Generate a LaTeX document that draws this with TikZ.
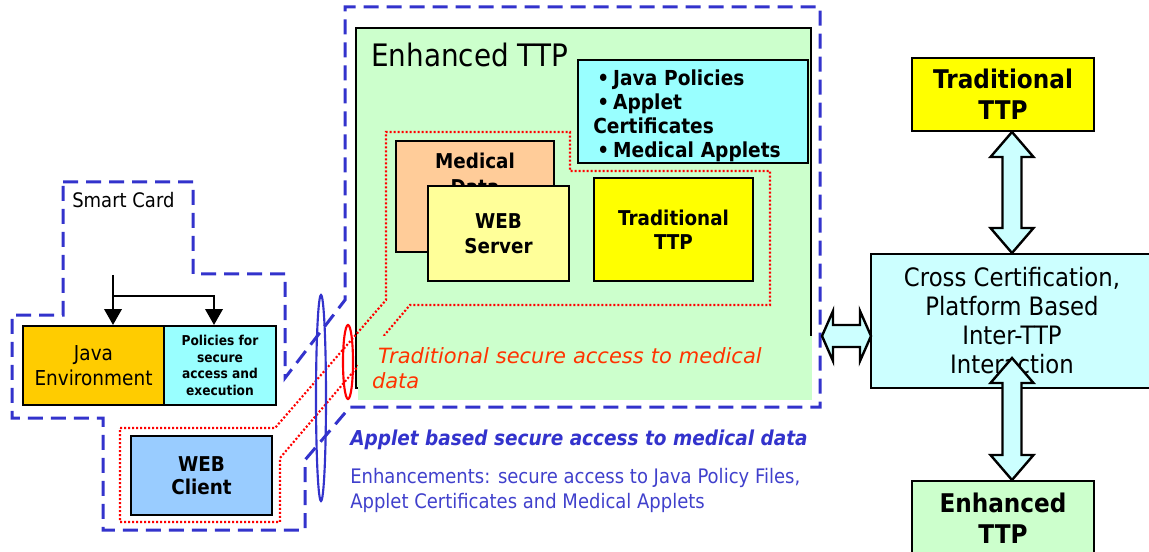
\documentclass[tikz,border=0pt]{standalone}
\usepackage{fontspec}
\setmainfont[FakeStretch=0.9]{DejaVu Sans}
\newfontfamily\widefont{DejaVu Sans}
\usetikzlibrary{shapes.geometric,arrows.meta,calc}
\definecolor{dblue}{HTML}{3333CC}
\definecolor{tblue}{HTML}{4040CC}
\definecolor{dred}{HTML}{FF0000}
\definecolor{tred}{HTML}{FF3300}
\definecolor{enhgreen}{HTML}{CCFFCC}
\definecolor{polcyan}{HTML}{99FFFF}
\definecolor{lcyan}{HTML}{CCFFFF}
\definecolor{javaorange}{HTML}{FFCC00}
\definecolor{medorange}{HTML}{FFCC99}
\definecolor{webyellow}{HTML}{FFFF99}
\definecolor{ttpyellow}{HTML}{FFFF00}
\definecolor{clientblue}{HTML}{99CCFF}
\newcommand{\fs}[2]{\fontsize{#1pt}{#2pt}\selectfont}
\newcommand{\vblk}[2]{%
  \draw[blk] (#1) -- ($(#1)+(21.5,25)$) -- ($(#1)+(9.5,25)$) -- ($(#2)+(9.5,-25)$)
    -- ($(#2)+(21.5,-25)$) -- (#2) -- ($(#2)+(-21.5,-25)$) -- ($(#2)+(-9.5,-25)$)
    -- ($(#1)+(-9.5,25)$) -- ($(#1)+(-21.5,25)$) -- cycle;}
\newcommand{\hblk}[2]{%
  \draw[blk] (#1) -- ($(#1)+(11,-25)$) -- ($(#1)+(11,-11)$) -- ($(#2)+(-11,-11)$)
    -- ($(#2)+(-11,-25)$) -- (#2) -- ($(#2)+(-11,25)$) -- ($(#2)+(-11,11)$)
    -- ($(#1)+(11,11)$) -- ($(#1)+(11,25)$) -- cycle;}
\begin{document}
\begin{tikzpicture}[x=0.75pt,y=-0.75pt,
  box/.style={draw=black,line width=1.5pt,inner sep=0pt,align=center},
  sz/.style 2 args={minimum width=#1*0.75pt,minimum height=#2*0.75pt},
  bdash/.style={draw=dblue,line width=2.25pt,dash pattern=on 11.25pt off 6pt},
  rdot/.style={draw=dred,line width=1.6pt,dash pattern=on 1.5pt off 1.5pt},
  blk/.style={draw=black,line width=1.8pt,fill=lcyan,line join=miter},
  arr/.style={draw=black,line width=2pt,-{Triangle[width=13pt,length=12pt]}},
  fbig/.style={font=\fs{23.2}{28}},
  fin/.style={font=\bfseries\fs{15.3}{19}},
  fright/.style={font=\bfseries\fs{19.3}{23}},
  ]
\useasboundingbox (0,0) rectangle (1149,552);

% blue dashed outline (smart card + client + enhanced TTP)
\draw[bdash] (63,182) -- (193,182) -- (193,274) -- (285,274) -- (285,378)
  -- (345,300) -- (345,7) -- (820,7) -- (820,407) -- (350,407) -- (305,460)
  -- (305,530) -- (103,530) -- (103,418) -- (12,418) -- (12,315) -- (63,315) -- cycle;

% Enhanced TTP
\node[box,fill=enhgreen,sz={455}{360}] (enh) at (583.5,208) {};
\node[fbig,anchor=base west,inner sep=0pt] (enht) at (371,67) {Enhanced TTP};
\node[box,fill=polcyan,sz={230}{103}] (jp) at (693,111.5) {};
\node[anchor=north west,inner sep=0pt,text width=205*0.75pt,align=left,
  font=\bfseries\fs{15.5}{18}] (jpt) at (593,69.5)
  {\hspace*{3pt}•\hspace{3pt}Java Policies\\\hspace*{3pt}•\hspace{3pt}Applet\\Certificates\\\hspace*{3pt}•\hspace{3pt}Medical Applets};
\node[box,fill=medorange,sz={158}{111}] (md) at (475,196.5) {};
\node[fin,inner sep=0pt,align=center] (mdt) at (475,174) {Medical\\Data};
\node[box,fill=webyellow,sz={141}{95},fin] (ws) at (498.5,233.5) {WEB\\Server};
\node[box,fill=ttpyellow,sz={159}{103},font=\bfseries\fs{15.3}{18}] (tt1) at (673.5,229.5) {Traditional\\TTP};

% red dotted traditional access path
\draw[rdot] (120,428) -- (275,428) -- (386,300) -- (386,132) -- (570,132) -- (570,171)
  -- (770,171) -- (770,305) -- (410,305) -- (280,458) -- (280,522) -- (120,522) -- cycle;

\node[fill=enhgreen,sz={454}{64},inner sep=0pt,text width=426*0.75pt,align=left,
  text=tred,font=\widefont\itshape\fs{15.75}{18.75}] (tsa) at (585,368)
  {\hspace*{4.5pt}Traditional secure access to medical\\data};

% ellipses
\node[ellipse,draw=dblue,line width=1.6pt,inner sep=0pt,sz={10}{206}] (be) at (321,398) {};
\node[ellipse,draw=dred,line width=1.6pt,inner sep=0pt,sz={10}{74}] (re) at (348,362) {};

% smart card
\node[anchor=base west,inner sep=0pt,font=\fs{15}{18}] (sc) at (72,208) {Smart Card};
\node[box,fill=javaorange,sz={141}{79},font=\fs{15.4}{18.75}] (je) at (93.5,365.5) {Java\\Environment};
\node[box,fill=polcyan,sz={112}{79},font=\bfseries\fs{10.2}{12.5}] (pol) at (220,365.5)
  {Policies for\\secure\\access and\\execution};
\coordinate (s1) at (113,275);
\coordinate (s2) at (113,296);
\draw[arr] (s1) -- (s1 |- je.north);
\draw[arr] (s2) -| ($(pol.north)+(-6,0)$);

% web client
\node[box,fill=clientblue,sz={141}{79},font=\bfseries\fs{15.3}{17.5}] (wc) at (201.5,475.5) {WEB\\Client};

% blue texts
\node[anchor=base west,inner sep=0pt,text=dblue,font=\bfseries\itshape\fs{15.4}{18}] (abs) at (350,445)
  {Applet based secure access to medical data};
\node[anchor=base west,inner sep=0pt,text=tblue,font=\fs{15}{18.75}] (enhc) at (350,483)
  {Enhancements: secure access to Java Policy Files,};
\node[anchor=base west,inner sep=0pt,text=tblue,font=\fs{15}{18.75}] (enhc2) at (350,508)
  {Applet Certificates and Medical Applets};

% right side
\node[box,fill=ttpyellow,sz={182}{73},fright] (rtt) at (1003,94.5) {Traditional\\TTP};
\node[box,fill=lcyan,sz={282}{134},font=\fs{19}{21.75}] (cc) at (1012,321)
  {Cross Certification,\\Platform Based\\Inter-TTP\\Interaction};
\node[box,fill=enhgreen,sz={182}{74},fright] (ret) at (1003,518) {Enhanced\\TTP};

\coordinate (a1) at ($(rtt.south)+(9,0)$);
\coordinate (a2) at ($(cc.south)+(0,-31)$);
\coordinate (a3) at ($(ret.north)+(9,0)$);
\coordinate (hr) at ($(cc.west)+(1,15)$);
\coordinate (hl) at ($(enh.east |- hr)+(10,0)$);
\vblk{a1}{cc.north}
\vblk{a2}{a3}
\hblk{hl}{hr}
\end{tikzpicture}
\end{document}
